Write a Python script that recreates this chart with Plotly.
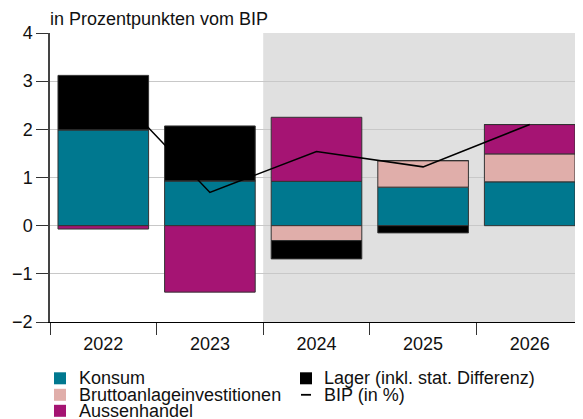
import plotly.graph_objects as go

years = ["2022", "2023", "2024", "2025", "2026"]
konsum = [1.99, 0.93, 0.92, 0.80, 0.91]
brutto = [0.0, 0.0, -0.31, 0.55, 0.58]
aussen = [-0.07, -1.38, 1.33, 0.0, 0.61]
lager = [1.13, 1.14, -0.38, -0.15, 0.0]
bip = [3.02, 0.69, 1.54, 1.22, 2.10]
y_ticks = [-2, -1, 0, 1, 2, 3, 4]

series_names = ["Konsum", "Bruttoanlageinvestitionen", "Aussenhandel",
                "Lager (inkl. stat. Differenz)", "BIP (in %)"]
title_text = "in Prozentpunkten vom BIP"

c_konsum = "#00788f"
c_brutto = "#e0aeaa"
c_aussen = "#a51473"
c_lager = "#000000"
c_bip = "#000000"

font_family = "Liberation Sans, Arial, Helvetica, sans-serif"
txt_color = "#111111"

# the page places the figure 8px in from the top-left corner
OFF = 8
W, H = 583 - OFF, 419 - OFF
L = 50 - OFF
T = 32.7 - OFF
B = H - (321.7 - OFF)
R = 0
plot_w = W - L - R
plot_h = H - T - B

def px_x(px):
    return (px - OFF - L) / plot_w

def px_y(py):
    return (H - B - (py - OFF)) / plot_h

fig = go.Figure()

bar_series = [
    (series_names[0], konsum, c_konsum),
    (series_names[1], brutto, c_brutto),
    (series_names[2], aussen, c_aussen),
    (series_names[3], lager, c_lager),
]
for name, vals, color in bar_series:
    fig.add_trace(go.Bar(
        x=years, y=vals, name=name, marker_color=color,
        marker_line=dict(color="#333333", width=1),
        width=0.85, showlegend=False,
    ))

fig.add_trace(go.Scatter(
    x=years, y=bip, mode="lines", name=series_names[4],
    line=dict(color=c_bip, width=1.6), showlegend=False,
))

# forecast shading
fig.add_shape(type="rect", xref="x", yref="y", x0=1.5, x1=4.5, y0=-2, y1=4,
              fillcolor="#e0e0e0", line_width=0, layer="below")

# legend (two columns, drawn as keys + text)
legend_layout = [
    # (name index, kind, color, key center x px, text x px, row y px)
    (0, "box", c_konsum, 60, 78, 378.0),
    (1, "box", c_brutto, 60, 78, 394.5),
    (2, "box", c_aussen, 60, 78, 410.5),
    (3, "box", c_lager, 306, 323, 378.0),
    (4, "line", c_bip, 306, 323, 394.5),
]
for idx, kind, color, kx, tx, ry in legend_layout:
    if kind == "box":
        fig.add_shape(type="rect", xref="paper", yref="paper",
                      x0=px_x(kx - 6), x1=px_x(kx + 6),
                      y0=px_y(ry + 6), y1=px_y(ry - 6),
                      fillcolor=color, line_width=0)
    else:
        fig.add_shape(type="line", xref="paper", yref="paper",
                      x0=px_x(kx - 5), x1=px_x(kx + 5),
                      y0=px_y(ry), y1=px_y(ry),
                      line=dict(color=color, width=1.8))
    fig.add_annotation(text=series_names[idx], xref="paper", yref="paper",
                       x=px_x(tx), y=px_y(ry), xanchor="left", yanchor="middle",
                       showarrow=False, borderpad=0,
                       font=dict(size=18, color=txt_color))

fig.update_layout(
    width=W, height=H,
    margin=dict(l=L, r=R, t=T, b=B),
    barmode="relative",
    showlegend=False,
    plot_bgcolor="white", paper_bgcolor="white",
    font=dict(family=font_family, size=18, color=txt_color),
    title=dict(text=title_text, x=0, xref="paper", xanchor="left",
               y=1 - (19 - OFF) / H, yref="container", yanchor="middle",
               font=dict(size=18, color=txt_color)),
    xaxis=dict(
        type="category", range=[-0.5, 4.5], tickson="boundaries",
        ticks="outside", ticklen=12, tickcolor="#333333", tickwidth=1,
        showline=True, linecolor="black", linewidth=1,
        showgrid=False, zeroline=False, tickfont=dict(size=18),
        ticklabelstandoff=5, automargin=False,
    ),
    yaxis=dict(
        range=[-2, 4], tickvals=y_ticks, ticks="outside", ticklen=12,
        tickcolor="#333333", showline=True, linecolor="#444444", linewidth=1.5,
        gridcolor="#c8c8c8", gridwidth=1, zeroline=True, zerolinecolor="#c8c8c8",
        zerolinewidth=1, tickfont=dict(size=18), ticklabelstandoff=0,
        automargin=False,
    ),
    bargap=0.15,
)

fig.write_html("out.html")
